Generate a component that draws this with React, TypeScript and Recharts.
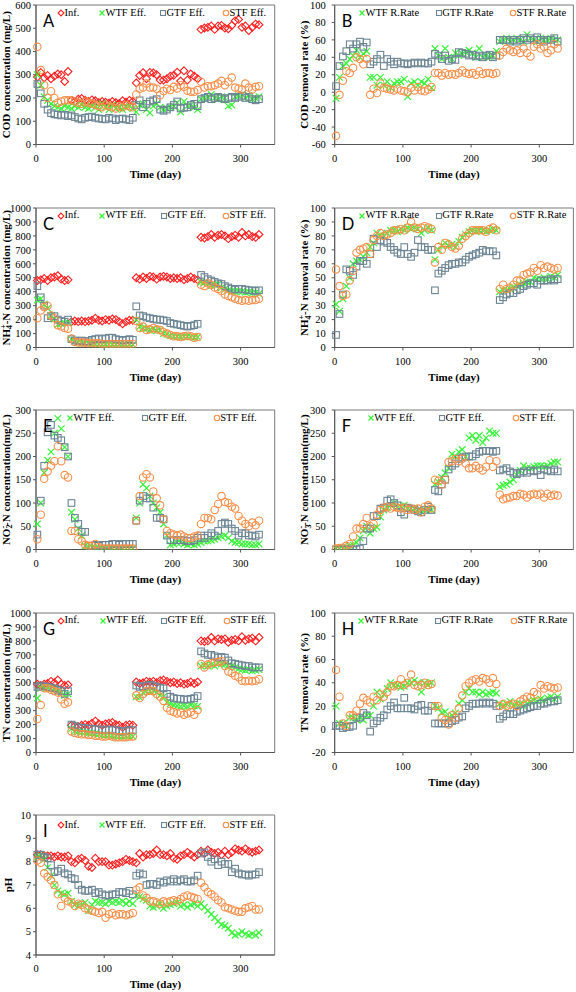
import React from 'react';
import { ScatterChart, Scatter, XAxis, YAxis, ReferenceArea, Legend } from 'recharts';

const SERIF = "'Liberation Serif', 'Times New Roman', serif";
const SANS = "Lato, 'Open Sans', sans-serif";

const DAYS = [2,7,12,17,22,27,32,37,42,47,52,57,62,67,72,77,82,87,92,97,102,107,112,117,122,127,132,137,142,147,152,157,162,167,172,177,182,187,192,197,202,207,212,217,222,227,232,237,242,247,252,257,262,267,272,277,282,287,292,297,302,307,312,317,322,327];
const X_TICKS = [0, 100, 200, 300];

// Panel A: COD concentration
const A_INF = [290,310,287,297,283,294,303,300,271,314,
190,185,195,198,190,185,192,188,180,185,182,178,185,180,176,188,182,190,185,
265,297,309,283,310,308,300,277,277,283,294,298,311,273,317,277,303,294,283,
495,501,504,510,495,510,512,501,498,512,532,538,504,510,490,504,518,515];
const A_WTF = [300,255,205,190,175,165,160,155,165,160,
155,165,160,170,160,155,165,160,150,175,160,150,170,155,160,150,160,165,155,
140,170,175,150,136,165,175,160,150,155,160,165,180,140,185,165,170,160,150,
195,200,205,215,200,195,205,200,165,170,205,210,215,200,210,195,200,205];
const A_GTF = [260,220,175,150,135,130,128,125,128,122,
125,118,112,108,115,118,120,115,112,110,108,115,112,105,110,112,108,105,115,
170,190,160,175,185,190,195,150,145,150,160,170,185,155,158,160,170,175,165,
195,200,205,195,200,205,200,195,200,205,200,205,210,200,205,195,190,195];
const A_STF = [420,320,255,200,229,200,180,185,190,190,
190,185,180,175,185,180,175,170,165,160,170,165,160,155,165,160,170,165,160,
215,240,245,262,245,245,240,212,230,240,234,248,241,255,248,231,227,227,234,
270,245,251,251,255,262,274,255,270,288,245,241,237,262,245,237,248,251];
const A_TICKS = [0,100,200,300,400,500,600];

// Panel B: COD removal rate
const B_WTF = [-7,17,30,33,38,42,48,40,44,47,
17,17,8,17,8,12,5,10,12,12,15,-5,10,12,8,12,10,15,5,
50,42,38,50,40,38,45,42,44,46,48,45,40,50,40,42,40,42,47,
58,60,62,58,60,62,60,58,66,62,60,58,62,60,60,62,60,60];
const B_GTF = [7,30,41,47,55,50,55,58,52,57,
32,35,38,43,30,38,35,32,35,33,33,32,33,34,33,34,33,33,35,
44,42,38,42,36,38,37,46,45,44,42,43,41,42,40,42,43,40,42,
60,60,60,58,60,58,60,62,60,62,60,63,60,58,60,60,62,58];
const B_STF = [-50,-3,13,24,22,28,40,38,32,38,
-3,4,-1,10,5,4,3,2,4,2,1,0,5,2,6,2,1,3,6,
22,22,19,22,20,21,20,22,25,22,21,22,20,24,21,22,22,21,22,
42,46,50,48,46,48,45,50,45,41,52,55,50,52,45,48,55,50];
const B_TICKS = [-60,-40,-20,0,20,40,60,80,100];

// Panel C: NH4+-N concentration
const C_INF = [480,485,495,480,500,505,515,490,480,485,
185,190,185,190,185,190,195,210,195,190,200,195,205,200,185,170,185,195,195,
500,490,505,495,510,505,490,505,510,505,495,500,495,500,485,495,505,495,485,
790,785,795,810,790,805,810,800,780,795,805,790,825,800,810,795,790,810];
const C_WTF = [340,350,310,280,230,205,165,170,175,180,
60,45,35,30,30,30,28,25,25,22,25,22,20,22,25,20,22,25,20,
200,150,140,135,125,135,120,125,100,95,85,80,80,75,80,78,75,72,75,
470,465,460,445,450,455,430,420,410,405,400,405,400,395,400,390,395,385];
const C_GTF = [440,360,300,210,225,225,200,190,185,200,
60,50,45,50,45,45,55,60,65,60,65,70,70,60,55,50,55,60,55,
295,230,225,215,210,205,200,200,195,190,175,170,165,160,155,150,155,160,170,
520,505,490,480,470,460,455,440,430,420,415,420,420,415,410,410,405,410];
const C_STF = [210,265,290,300,230,210,160,150,140,135,
65,40,35,35,35,30,30,30,30,25,25,25,25,25,25,25,25,25,25,
190,140,150,125,130,140,130,125,110,100,90,80,80,75,80,85,80,70,75,
450,440,460,450,430,420,405,380,370,360,350,340,335,340,335,340,340,350];
const C_TICKS = [0,100,200,300,400,500,600,700,800,900,1000];

// Panel D: NH4+-N removal rate
const D_WTF = [31,26,35,44,50,60,62,63,65,68,
72,75,82,80,80,82,84,84,83,85,84,86,85,86,85,82,84,86,84,
63,70,73,75,73,74,72,76,79,81,83,84,83,84,84,83,84,85,84,
40,41,41,42,43,44,45,46,47,47,50,49,49,50,49,51,50,52];
const D_GTF = [9,24,38,56,55,52,58,62,62,60,
67,78,72,77,76,75,72,70,68,67,72,67,65,68,77,72,72,70,70,
41,53,55,57,59,60,60,61,61,63,65,66,67,68,70,69,69,69,66,
34,36,38,39,39,41,42,44,45,46,46,45,48,48,48,49,48,49];
const D_STF = [56,44,37,38,48,55,68,70,71,72,
67,77,80,82,80,81,82,84,84,85,84,86,90,86,85,86,87,86,85,
61,72,70,75,74,72,71,73,78,80,82,84,84,84,84,83,85,86,84,
42,45,42,43,45,48,48,52,53,54,57,55,59,57,58,57,56,57];
const D_TICKS = [0,10,20,30,40,50,60,70,80,90,100];

// Panel E: NO2--N concentration
const E_WTF = [55,100,165,192,210,250,282,260,220,200,
80,65,45,30,8,5,5,3,3,3,3,3,3,3,3,3,3,3,3,
68,100,140,132,115,100,90,80,55,30,10,12,15,15,12,10,12,10,12,
15,18,18,20,22,25,28,30,25,18,15,15,12,12,12,10,10,12];
const E_GTF = [32,105,180,252,268,245,240,235,220,200,
100,68,55,38,38,8,8,10,8,10,10,10,12,12,10,12,12,12,12,
62,105,115,110,110,90,68,68,65,30,20,20,20,20,20,18,18,20,25,
30,25,30,35,30,40,55,58,55,45,40,30,35,35,30,30,28,32];
const E_STF = [22,75,152,168,180,190,222,190,160,155,
40,40,22,18,10,8,8,12,5,2,2,2,2,2,2,2,2,2,2,
62,115,155,162,155,125,110,95,65,40,35,32,30,32,28,25,25,28,30,
55,68,68,65,85,98,115,102,100,92,88,72,62,55,50,58,52,62];
const E_TICKS = [0,50,100,150,200,250,300];

// Panel F: NO3--N concentration
const F_WTF = [2,2,2,5,8,10,15,25,40,50,
35,45,48,70,85,90,95,100,90,92,95,90,88,88,85,82,85,88,85,
140,145,155,165,175,205,200,210,215,200,240,245,235,245,230,240,255,250,250,
135,138,140,145,150,160,170,180,175,175,178,180,180,178,180,185,188,188];
const F_GTF = [0,0,0,0,0,0,0,2,18,45,
45,72,72,88,90,105,108,100,95,80,75,90,88,85,82,80,85,92,85,
128,125,140,150,172,180,185,195,198,200,200,200,205,210,212,212,212,210,212,
170,172,175,168,165,162,165,168,165,170,168,170,160,172,170,168,172,168];
const F_STF = [2,3,4,8,12,28,45,45,55,68,
50,55,75,85,90,92,88,92,90,88,90,85,88,85,88,80,92,95,88,
150,148,140,150,188,190,195,190,195,185,175,175,180,175,170,178,192,178,190,
118,108,110,112,115,115,120,118,112,118,120,118,120,112,120,115,118,116];
const F_TICKS = [0,50,100,150,200,250,300];

// Panel G: TN concentration
const G_INF = [490,480,490,495,510,500,520,490,480,485,
195,190,185,195,200,195,210,225,205,195,205,210,215,200,195,180,195,200,195,
505,495,500,510,505,510,500,515,520,510,500,505,495,500,490,495,505,495,505,
800,795,800,825,800,815,810,815,790,805,810,800,830,805,815,820,800,825];
const G_WTF = [390,460,470,470,460,455,440,430,410,420,
170,155,150,145,145,140,140,135,130,125,125,125,120,120,115,115,120,120,115,
400,395,430,440,440,445,430,410,400,360,350,340,335,330,335,330,340,335,330,
620,625,620,630,620,640,635,630,625,620,610,600,595,590,595,585,590,595];
const G_GTF = [470,480,475,470,465,460,450,440,420,440,
200,190,180,175,175,170,170,165,165,160,165,160,165,160,155,150,155,160,160,
480,470,475,480,485,480,470,465,460,420,400,390,385,385,380,380,385,390,405,
725,710,700,700,690,680,685,680,660,640,635,630,625,620,620,610,610,610];
const G_STF = [240,340,460,460,450,440,430,380,350,360,
150,140,135,130,130,125,125,120,120,115,115,120,115,110,110,110,110,115,115,
410,390,420,440,445,440,420,400,370,320,300,290,280,285,270,280,290,270,305,
635,610,630,640,645,650,655,620,580,570,550,540,515,510,515,510,515,525];
const G_TICKS = [0,100,200,300,400,500,600,700,800,900,1000];

// Panel H: TN removal rate
const H_WTF = [20,5,5,3,10,10,8,10,8,12,
12,20,32,26,30,35,40,38,38,36,37,40,40,42,40,32,40,38,40,
20,18,14,15,10,12,14,22,25,32,35,32,32,30,32,30,31,32,31,
22,20,22,24,20,22,22,20,22,24,25,24,26,25,27,28,26,28];
const H_GTF = [3,3,1,2,2,3,10,10,14,12,
-2,5,7,10,12,17,20,23,18,18,27,18,18,17,20,21,16,16,20,
5,5,5,5,5,7,8,10,11,18,20,22,22,22,23,22,23,22,20,
9,11,13,13,13,15,16,17,18,19,20,20,22,22,23,24,24,25];
const H_STF = [51,28,5,3,12,12,16,22,27,25,
23,28,25,30,28,32,37,37,38,43,38,40,47,38,37,38,40,38,39,
20,20,10,8,4,12,10,18,29,37,40,42,43,41,44,43,40,44,39,
20,22,20,21,22,20,24,26,28,27,32,30,38,35,37,36,35,36];
const H_TICKS = [-20,0,20,40,60,80,100];

// Panel I: pH
const I_INF = [8.3,8.3,8.25,8.25,8.25,8.2,8.25,8.2,8.2,8.25,
8.0,7.95,8.1,8.15,8.05,7.8,7.75,8.15,8.0,8.0,8.0,7.85,7.85,7.9,7.95,8.0,8.1,8.05,8.0,
7.95,8.35,8.2,8.3,8.3,8.35,8.5,8.3,8.3,8.25,8.35,8.15,8.1,8.25,8.3,8.4,8.3,8.2,8.3,
8.45,8.35,8.5,8.4,8.35,8.4,8.3,8.45,8.3,8.4,8.55,8.5,8.45,8.55,8.45,8.4,8.45,8.5];
const I_WTF = [8.2,8.25,8.1,7.75,7.4,7.0,6.75,6.65,6.6,6.65,
6.3,6.15,6.1,6.15,6.25,5.9,6.15,6.3,6.25,6.25,6.2,6.3,6.25,6.3,6.25,6.3,6.2,6.3,6.2,
6.55,6.5,6.4,6.35,6.1,6.05,6.1,6.2,6.0,6.1,6.15,6.2,6.25,6.1,6.15,6.05,6.15,6.2,6.1,
6.2,6.05,5.9,5.75,5.6,5.45,5.3,5.25,5.15,4.95,4.85,4.9,5.0,4.9,4.85,4.9,4.85,4.95];
const I_GTF = [8.3,8.3,8.2,8.15,7.85,7.55,7.6,7.7,7.5,7.45,
7.3,7.25,7.0,6.8,6.75,6.75,6.8,6.65,6.7,6.6,6.55,6.55,6.6,6.6,6.7,6.7,6.65,6.75,6.6,
7.4,7.5,7.45,7.0,7.05,7.05,7.0,7.15,7.1,7.2,7.15,7.25,7.15,7.2,7.25,7.15,7.15,7.2,7.4,
8.35,8.4,8.2,8.0,8.1,7.85,8.0,7.9,7.9,7.55,7.7,7.5,7.45,7.45,7.4,7.45,7.45,7.55];
const I_STF = [8.05,7.95,7.5,7.35,7.2,7.0,6.6,6.1,6.45,6.3,
6.25,6.1,6.2,6.15,6.0,5.95,5.9,5.85,5.8,5.85,5.6,5.75,5.8,5.7,5.75,5.75,5.7,5.75,5.8,
6.8,6.9,6.55,6.45,6.3,6.3,6.25,6.2,6.3,6.25,6.3,6.35,6.3,6.4,6.5,6.55,6.5,6.45,6.4,
7.1,6.9,6.7,6.6,6.5,6.35,6.25,6.05,6.0,5.95,5.9,5.85,5.85,6.0,6.05,6.1,5.95,5.95];
const I_TICKS = [4,5,6,7,8,9,10];

type Kind = 'inf' | 'wtf' | 'gtf' | 'stf';
const COLORS: Record<Kind, string> = { inf: '#FF1F1F', wtf: '#38F238', gtf: '#6C8594', stf: '#F68F4A' };

function Marker({ cx, cy, kind, s = 1 }: { cx?: number; cy?: number; kind: Kind; s?: number }) {
  if (cx == null || cy == null || isNaN(cx) || isNaN(cy)) return null;
  const c = COLORS[kind];
  if (kind === 'inf') {
    const r = 3.9 * s;
    return <polygon points={`${cx},${cy - r} ${cx + r},${cy} ${cx},${cy + r} ${cx - r},${cy}`} fill="none" stroke={c} strokeWidth={1.1} />;
  }
  if (kind === 'wtf') {
    const r = 3.3 * s;
    return (
      <g stroke={c} strokeWidth={1.2}>
        <line x1={cx - r} y1={cy - r} x2={cx + r} y2={cy + r} />
        <line x1={cx - r} y1={cy + r} x2={cx + r} y2={cy - r} />
      </g>
    );
  }
  if (kind === 'gtf') {
    const r = 3.3 * s;
    return <rect x={cx - r} y={cy - r} width={2 * r} height={2 * r} fill="none" stroke={c} strokeWidth={1.1} />;
  }
  return <circle cx={cx} cy={cy} r={3.7 * s} fill="none" stroke={c} strokeWidth={1.1} />;
}

const mk = (vals: number[]) => DAYS.map((d, i) => ({ x: d, y: vals[i] })).filter((p) => p.y != null);

type Series = { kind: Kind; name: string; values: number[] };
type PanelCfg = {
  letter: string; col: number; row: number; title: React.ReactNode; domain: [number, number];
  ticks: number[]; series: Series[]; legendX: number[];
};

const NH4 = (rest: string) => [
  'NH',
  <tspan key="a" dy={2.5} fontSize={8}>4</tspan>,
  <tspan key="b" dy={-6.5} dx={-4} fontSize={8}>+</tspan>,
  <tspan key="c" dy={4}>{rest}</tspan>,
];
const NOx = (n: string, rest: string) => [
  'NO',
  <tspan key="a" dy={2.5} fontSize={8}>{n}</tspan>,
  <tspan key="b" dy={-6.5} dx={-4} fontSize={8}>-</tspan>,
  <tspan key="c" dy={4}>{rest}</tspan>,
];

const EFF = (inf: number[] | null, w: number[], g: number[], s: number[]): Series[] => {
  const out: Series[] = [];
  if (inf) out.push({ kind: 'inf', name: 'Inf.', values: inf });
  out.push({ kind: 'wtf', name: 'WTF Eff.', values: w });
  out.push({ kind: 'gtf', name: 'GTF Eff.', values: g });
  out.push({ kind: 'stf', name: 'STF Eff.', values: s });
  return out;
};
const RATE = (w: number[], g: number[], s: number[]): Series[] => [
  { kind: 'wtf', name: 'WTF R.Rate', values: w },
  { kind: 'gtf', name: 'GTF R.Rate', values: g },
  { kind: 'stf', name: 'STF R.Rate', values: s },
];

const PANELS: PanelCfg[] = [
  { letter: 'A', col: 0, row: 0, title: 'COD concentration (mg/L)', domain: [0, 600], ticks: A_TICKS, series: EFF(A_INF, A_WTF, A_GTF, A_STF), legendX: [61, 102, 163, 226] },
  { letter: 'B', col: 1, row: 0, title: 'COD removal rate (%)', domain: [-60, 100], ticks: B_TICKS, series: RATE(B_WTF, B_GTF, B_STF), legendX: [74, 150.7, 225] },
  { letter: 'C', col: 0, row: 1, title: NH4('-N concentration (mg/L)'), domain: [0, 1000], ticks: C_TICKS, series: EFF(C_INF, C_WTF, C_GTF, C_STF), legendX: [61, 102, 164, 226] },
  { letter: 'D', col: 1, row: 1, title: NH4('-N removal rate (%)'), domain: [0, 100], ticks: D_TICKS, series: RATE(D_WTF, D_GTF, D_STF), legendX: [74, 150.7, 225.3] },
  { letter: 'E', col: 0, row: 2, title: NOx('2', '-N concentration(mg/L)'), domain: [0, 300], ticks: E_TICKS, series: EFF(null, E_WTF, E_GTF, E_STF), legendX: [70, 145, 216.7] },
  { letter: 'F', col: 1, row: 2, title: NOx('3', '-N concentration(mg/L)'), domain: [0, 300], ticks: F_TICKS, series: EFF(null, F_WTF, F_GTF, F_STF), legendX: [82.7, 154, 227.7] },
  { letter: 'G', col: 0, row: 3, title: 'TN concentration (mg/L)', domain: [0, 1000], ticks: G_TICKS, series: EFF(G_INF, G_WTF, G_GTF, G_STF), legendX: [61, 102.7, 164, 226.7] },
  { letter: 'H', col: 1, row: 3, title: 'TN removal rate (%)', domain: [-20, 100], ticks: H_TICKS, series: RATE(H_WTF, H_GTF, H_STF), legendX: [72.7, 150, 226] },
  { letter: 'I', col: 0, row: 4, title: 'pH', domain: [4, 10], ticks: I_TICKS, series: EFF(I_INF, I_WTF, I_GTF, I_STF), legendX: [61, 101.7, 164, 226] },
];

const ROW_TOP = [0, 202.5, 405, 607.5, 810];

function LegendBox({ p, left }: { p: PanelCfg; left: number }) {
  const ly = p.row === 4 ? 15 : 13;
  const textStyle: React.CSSProperties = {
    position: 'absolute', top: ly - 6.5, lineHeight: '12px', whiteSpace: 'nowrap',
    fontFamily: 'Liberation Serif, serif', fontSize: 10.5, fontWeight: 'normal', color: '#000',
  };
  return (
    <div style={{ position: 'relative', width: 288, height: 40 }}>
      {p.series.map((s, i) => {
        const mx = p.legendX[i];
        return (
          <React.Fragment key={s.name}>
            <svg style={{ position: 'absolute', left: mx - 5, top: ly - 5, overflow: 'visible' }} width={10} height={10}>
              <Marker cx={5} cy={5} kind={s.kind} s={0.75} />
            </svg>
            <span style={{ ...textStyle, left: mx + 3.5 }}>{s.name}</span>
          </React.Fragment>
        );
      })}
      <span style={{ position: 'absolute', left: left + 7, top: 12, fontFamily: SANS, fontSize: 16.5, lineHeight: '18px', color: '#000' }}>{p.letter}</span>
    </div>
  );
}

function Panel({ p }: { p: PanelCfg }) {
  const right = p.col === 1;
  const L = right ? 46.7 : 36;
  const R = right ? 2.6 : 13.3;
  const H = p.row === 4 ? 182 : 202;
  const xh = p.row === 4 ? 37 : 57.5;
  const plotTop = 5;
  const plotBottom = H - xh;
  const midX = (L + 288 - R) / 2;
  const midY = (plotTop + plotBottom) / 2;
  const titleX = right ? 20 : (p.row === 4 ? 12 : 9.5);
  return (
    <div style={{ position: 'absolute', left: p.col * 288, top: ROW_TOP[p.row], width: 288, height: H }}>
      <ScatterChart width={288} height={H} margin={{ top: plotTop, right: R, bottom: 0, left: 0 }}>
        <XAxis
          type="number" dataKey="x" domain={[0, 350]} ticks={X_TICKS} interval={0} height={xh}
          tickSize={3} tickMargin={7} stroke="#555"
          tick={{ fill: '#000', fontSize: 10.5, fontFamily: SERIF }}
          label={() => (
            <text x={midX} y={plotBottom + 33} textAnchor="middle" fontFamily={SERIF} fontWeight="bold" fontSize={11} fill="#000">Time (day)</text>
          )}
        />
        <YAxis
          type="number" dataKey="y" domain={p.domain} ticks={p.ticks} interval={0} width={L}
          tickSize={3} tickMargin={right ? 6 : 2} stroke="#555" allowDataOverflow
          tick={{ fill: '#000', fontSize: 10.5, fontFamily: SERIF }}
          label={() => (
            <text x={titleX} y={midY} transform={`rotate(-90 ${titleX} ${midY})`} textAnchor="middle" fontFamily={SERIF} fontWeight="bold" fontSize={11} fill="#000">{p.title}</text>
          )}
        />
        <ReferenceArea x1={0} x2={350} y1={p.domain[0]} y2={p.domain[1]} fill="none" fillOpacity={0} stroke="#7a7a7a" strokeWidth={1} />
        {p.series.map((s) => (
          <Scatter
            key={s.name} name={s.name} data={mk(s.values)} isAnimationActive={false}
            shape={(props: any) => <Marker cx={props.cx} cy={props.cy} kind={s.kind} />}
          />
        ))}
        <Legend
          layout="horizontal" verticalAlign="middle" align="center"
          wrapperStyle={{ left: 0, top: 0, width: 288, height: 40 }}
          content={() => <LegendBox p={p} left={L} />}
        />
      </ScatterChart>
    </div>
  );
}

export default function App() {
  return (
    <div style={{ position: 'absolute', left: 0, top: 0, width: 576, height: 992, background: '#fff' }}>
      {PANELS.map((p) => (
        <Panel key={p.letter} p={p} />
      ))}
    </div>
  );
}
